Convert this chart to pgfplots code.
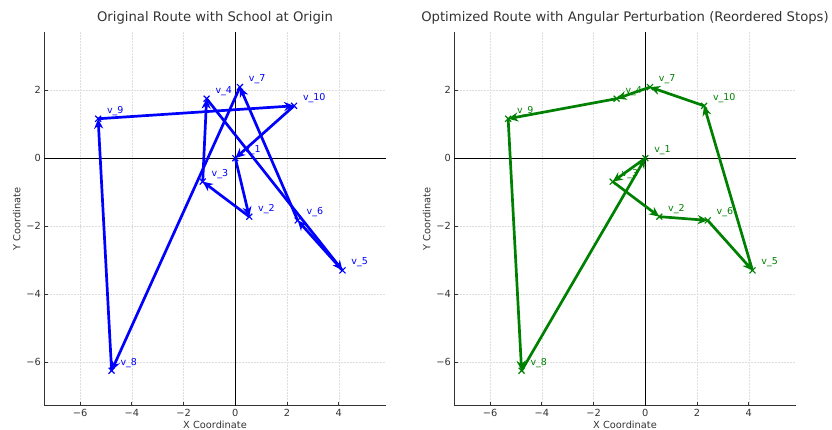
\documentclass[border=0pt]{standalone}
\usepackage{pgfplots}
\pgfplotsset{compat=1.18}
\usepackage{fontspec}
\setmainfont{DejaVu Sans}
\usetikzlibrary{arrows.meta}
\definecolor{spine}{HTML}{333333}
\definecolor{mygreen}{RGB}{0,128,0}
\pgfplotsset{
  routeaxis/.style={
    scale only axis, width=341.4pt, height=374pt,
    xmin=-7.38, xmax=5.81, ymin=-7.28, ymax=3.72,
    axis x line*=bottom, axis y line*=left,
    axis line style={spine, line width=0.8pt, -},
    xtick={-6,-4,-2,0,2,4}, xticklabels={−6,−4,−2,0,2,4},
    ytick={-6,-4,-2,0,2}, yticklabels={−6,−4,−2,0,2},
    tick style={spine, line width=0.8pt},
    major tick length=3.5pt, tick align=inside,
    tick label style={font=\fontsize{9.8}{11}\selectfont, text=spine},
    grid=major,
    major grid style={black!13, line width=0.5pt, dash pattern=on 2pt off 1pt},
    xlabel={X Coordinate}, ylabel={Y Coordinate},
    label style={font=\fontsize{9.8}{11}\selectfont, text=spine, inner sep=0pt},
    xlabel style={at={(axis description cs:0.5,-0.051)}, anchor=center},
    ylabel style={at={(axis description cs:-0.0808,0.5)}, anchor=center},
    title style={at={(axis description cs:0.5,1)}, anchor=base, yshift=4.4pt, inner sep=0pt, font=\fontsize{13.2}{15}\selectfont, text=spine},
    clip=false,
  },
  vlabels/.style={nodes near coords, point meta=explicit symbolic,
    nodes near coords style={anchor=base west, xshift=5pt, yshift=5.5pt, font=\fontsize{9.5}{11}\selectfont}},
}
\pgfplotstableread{
x y label
0 0 v\_1
0.54 -1.72 v\_2
-1.26 -0.69 v\_3
-1.11 1.75 v\_4
4.14 -3.30 v\_5
2.41 -1.83 v\_6
0.18 2.09 v\_7
-4.78 -6.25 v\_8
-5.30 1.16 v\_9
2.27 1.54 v\_10
}\stops
\pgfplotstableread{
x y u v
0 0 0.54 -1.72
0.54 -1.72 -1.80 1.03
-1.26 -0.69 0.15 2.44
-1.11 1.75 5.25 -5.05
4.14 -3.30 -1.73 1.47
2.41 -1.83 -2.23 3.92
0.18 2.09 -4.96 -8.34
-4.78 -6.25 -0.52 7.41
-5.30 1.16 7.57 0.38
2.27 1.54 -2.27 -1.54
}\origroute
\pgfplotstableread{
x y u v
0 0 -1.26 -0.69
-1.26 -0.69 1.80 -1.03
0.54 -1.72 1.87 -0.11
2.41 -1.83 1.73 -1.47
4.14 -3.30 -1.87 4.84
2.27 1.54 -2.09 0.55
0.18 2.09 -1.29 -0.34
-1.11 1.75 -4.19 -0.59
-5.30 1.16 0.52 -7.41
-4.78 -6.25 4.78 6.25
}\optroute
\begin{document}
\begin{tikzpicture}
\begin{axis}[routeaxis, at={(0pt,0pt)}, anchor=south west,
  title={Original Route with School at Origin}]
\addplot[black, line width=0.8pt, forget plot] coordinates {(-7.38,0) (5.81,0)};
\addplot[black, line width=0.8pt, forget plot] coordinates {(0,-7.28) (0,3.72)};
\addplot[blue, line width=2.7pt, -{Stealth[length=10pt,width=9pt]},
  quiver={u=\thisrow{u}, v=\thisrow{v}}] table[x=x,y=y] {\origroute};
\addplot[blue, only marks, mark=x, mark size=4.2pt, mark options={line width=1.2pt},
  vlabels] table[x=x,y=y,meta=label] {\stops};
\end{axis}
\begin{axis}[routeaxis, at={(410pt,0pt)}, anchor=south west,
  title={Optimized Route with Angular Perturbation (Reordered Stops)}]
\addplot[black, line width=0.8pt, forget plot] coordinates {(-7.38,0) (5.81,0)};
\addplot[black, line width=0.8pt, forget plot] coordinates {(0,-7.28) (0,3.72)};
\addplot[mygreen, line width=2.7pt, -{Stealth[length=10pt,width=9pt]},
  quiver={u=\thisrow{u}, v=\thisrow{v}}] table[x=x,y=y] {\optroute};
\addplot[mygreen, only marks, mark=x, mark size=4.2pt, mark options={line width=1.2pt},
  vlabels] table[x=x,y=y,meta=label] {\stops};
\end{axis}
\pgfresetboundingbox
\path[use as bounding box] (-44.3pt,-24.3pt) rectangle (787.7pt,405.7pt);
\end{tikzpicture}
\end{document}
